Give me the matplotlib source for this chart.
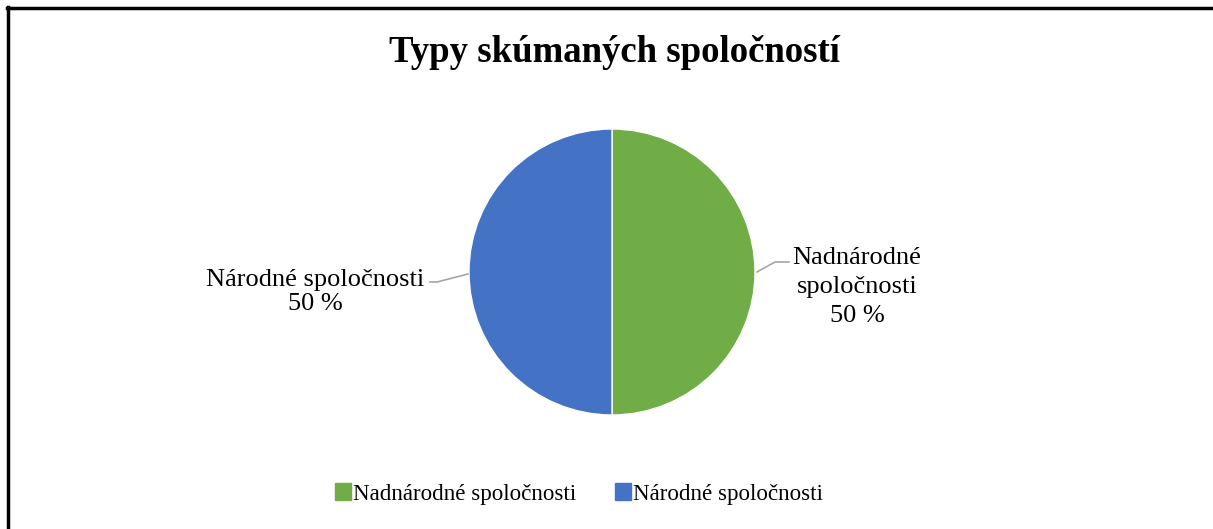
import matplotlib
matplotlib.use("Agg")
import matplotlib.pyplot as plt
from matplotlib.lines import Line2D

plt.rcParams['font.family'] = ['Liberation Serif', 'DejaVu Serif']

# data
categories = ["Nadnárodné spoločnosti", "Národné spoločnosti"]
shares = [50, 50]
colors = ["#70AD47", "#4472C4"]
title = "Typy skúmaných spoločností"

W, H = 1213, 529
fig = plt.figure(figsize=(W / 100, H / 100), dpi=100)

def fx(px):
    return px / W

def fy(py):
    return 1 - py / H

# pie axes, centre (612, 272), radius 143 px
cx, cy, r = 612, 272, 143
ax = fig.add_axes([fx(cx - r), fy(cy + r), 2 * r / W, 2 * r / H])
ax.pie(shares, colors=colors, startangle=90, counterclock=False,
       wedgeprops=dict(edgecolor="white", linewidth=1))
ax.set_xlim(-1, 1)
ax.set_ylim(-1, 1)
ax.set_aspect("equal")
ax.axis("off")

fig.text(fx(614), fy(52), title, ha="center", va="center",
         fontsize=26.5, fontweight="bold")

# leader lines (pixel coords)
lc = "#A6A6A6"
fig.add_artist(Line2D([fx(430), fx(437), fx(468)], [fy(282), fy(282), fy(274)],
                      color=lc, lw=1.2))
fig.add_artist(Line2D([fx(757), fx(775), fx(789)], [fy(272), fy(262), fy(262)],
                      color=lc, lw=1.2))

lab_size = 19
fig.text(fx(315), fy(292), f"{categories[1]}\n{shares[1]} %", ha="center",
         va="center", fontsize=lab_size, linespacing=1.15)
fig.text(fx(857), fy(287), "Nadnárodné\nspoločnosti\n" + f"{shares[0]} %",
         ha="center", va="center", fontsize=lab_size, linespacing=1.4)

handles = [plt.Rectangle((0, 0), 1, 1, color=c) for c in colors]
fig.legend(handles, categories, loc="center", bbox_to_anchor=(fx(579), fy(494)),
           ncol=2, frameon=False, fontsize=16.6, handlelength=0.7,
           handleheight=0.7, handletextpad=0.1, columnspacing=1.65)

# border: only top and left visible
fig.add_artist(Line2D([fx(7), 1], [fy(8), fy(8)], color="black", lw=2.5))
fig.add_artist(Line2D([fx(8), fx(8)], [fy(7), 0], color="black", lw=2.5))

fig.savefig("out.png", dpi=100, facecolor="white")
